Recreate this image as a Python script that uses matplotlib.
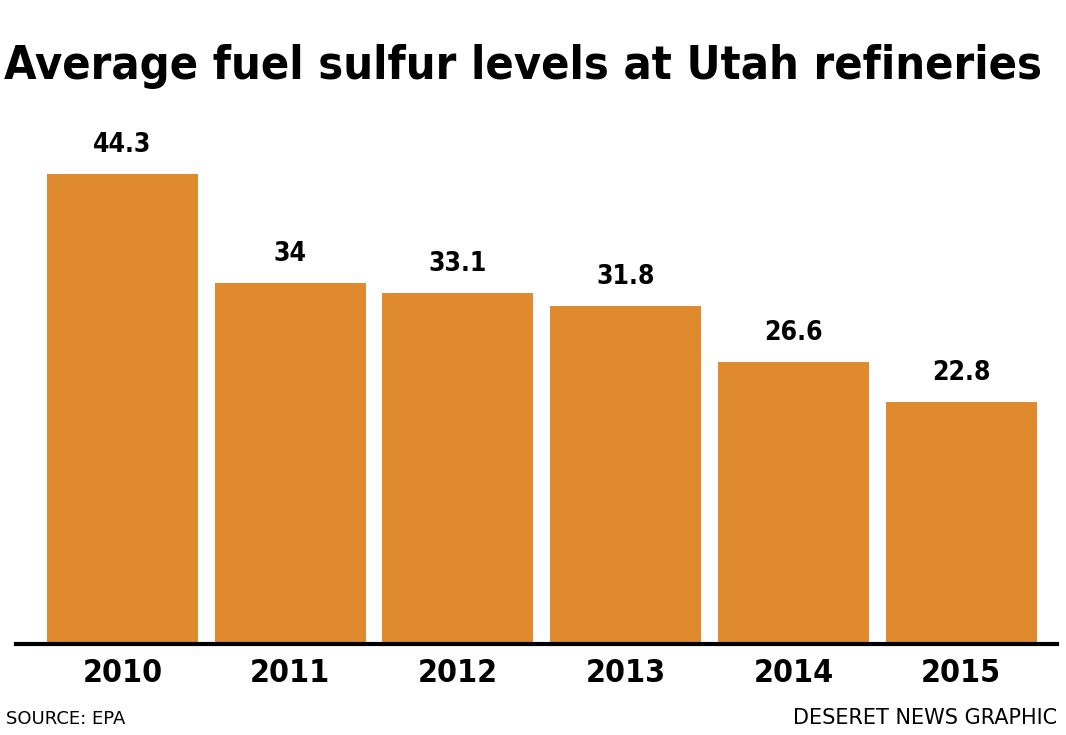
import matplotlib
matplotlib.use('Agg')
import matplotlib.pyplot as plt

years = ['2010', '2011', '2012', '2013', '2014', '2015']
sulfur = [44.3, 34, 33.1, 31.8, 26.6, 22.8]
value_labels = ['44.3', '34', '33.1', '31.8', '26.6', '22.8']

title = 'Average fuel sulfur levels at Utah refineries'
source = 'SOURCE: EPA'
credit = 'DESERET NEWS GRAPHIC'

bar_color = '#E08A30'
narrow = ['DejaVu Sans Condensed', 'Liberation Sans Narrow', 'DejaVu Sans']

plt.rcParams['font.family'] = narrow

fig = plt.figure(figsize=(10.66, 7.35), dpi=100)
ax = fig.add_axes([0.015, 0.1238, 0.9766, 0.7265])

x = list(range(len(years)))
ax.bar(x, sulfur, width=0.9, color=bar_color)
ax.set_xlim(-0.635, 5.572)
ax.set_ylim(0, 50.3)

for xi, v, lab in zip(x, sulfur, value_labels):
    ax.annotate(lab, (xi, v), xytext=(0, 16), textcoords='offset pixels',
                ha='center', va='bottom', fontsize=19, fontweight='bold',
                fontstretch='condensed')

for s in ['top', 'right', 'left']:
    ax.spines[s].set_visible(False)
ax.spines['bottom'].set_linewidth(3)
ax.spines['bottom'].set_color('black')
ax.set_yticks([])
ax.set_xticks(x)
ax.set_xticklabels(years, fontsize=23, fontweight='bold', fontstretch='condensed')
ax.tick_params(axis='x', length=0, pad=10)

t = fig.text(0.004, 0.893, title, fontsize=44, fontweight='bold',
             fontstretch='condensed', ha='left', va='baseline')
fig.text(0.006, 0.009, source, fontsize=13, ha='left', va='bottom')
fig.text(0.992, 0.009, credit, fontsize=15, ha='right', va='bottom')

# shrink/grow title so it spans the same width as the reference
fig.canvas.draw()
w = t.get_window_extent().width
t.set_fontsize(44 * 1040 / w)

fig.savefig('out.png', dpi=100)
